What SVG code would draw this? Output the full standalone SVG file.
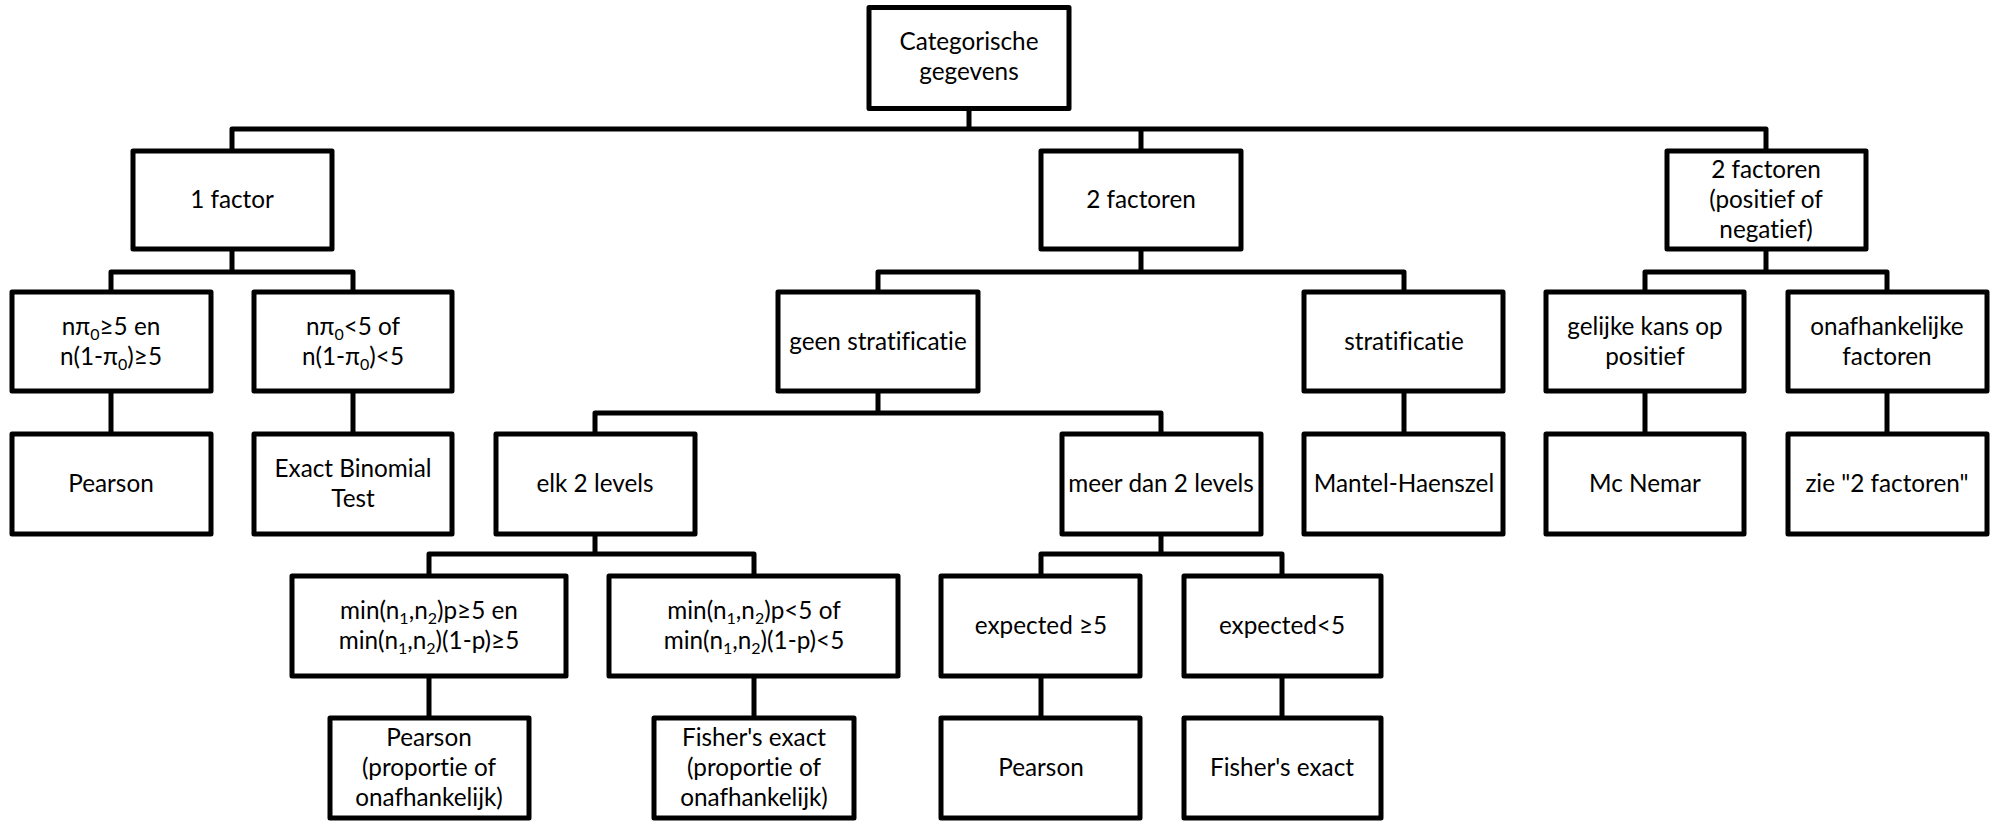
<svg xmlns="http://www.w3.org/2000/svg" width="1990" height="821" viewBox="0 0 1990 821">
<style>
.box{fill:#fff;stroke:#000;stroke-width:5;stroke-linejoin:round}
.ln{fill:none;stroke:#000;stroke-width:5;stroke-linejoin:round}
text{font-family:Lato,"Liberation Sans",sans-serif;font-size:24.3px;fill:#000;text-anchor:middle;font-variant-ligatures:none;font-feature-settings:"liga" 0,"dlig" 0}
.s{font-size:16px}
</style>
<rect width="1990" height="821" fill="#fff"/>
<g id="connectors">
<path class="ln" d="M969,108V129M232,151V129H1766V151M1141,129V151"/>
<path class="ln" d="M232,249V272M111,292V272H353V292"/>
<path class="ln" d="M1141,249V272M878,292V272H1404V292"/>
<path class="ln" d="M1766,249V272M1645,292V272H1887V292"/>
<path class="ln" d="M111,392V434M353,392V434M1404,392V434M1645,392V434M1887,392V434"/>
<path class="ln" d="M878,392V413M595,434V413H1161V434"/>
<path class="ln" d="M595,534V554M429,576V554H754V576"/>
<path class="ln" d="M1161,534V554M1041,576V554H1282V576"/>
<path class="ln" d="M429,676V718M754,676V718M1041,676V718M1282,676V718"/>
</g>
<g id="n-root"><rect class="box" x="869" y="7.5" width="200" height="101"/><text x="969" y="50">Categorische</text><text x="969" y="80">gegevens</text></g>
<g id="n-1factor"><rect class="box" x="133" y="151" width="199" height="98"/><text x="232" y="208">1 factor</text></g>
<g id="n-2factoren"><rect class="box" x="1041" y="151" width="200" height="98"/><text x="1141" y="208">2 factoren</text></g>
<g id="n-2factpos"><rect class="box" x="1667" y="151" width="199" height="98"/><text x="1766" y="178">2 factoren</text><text x="1766" y="208">(positief of</text><text x="1766" y="238">negatief)</text></g>
<g id="n-np-ge"><rect class="box" x="12" y="292" width="199" height="99"/><text x="111" y="335">nπ<tspan class="s" dy="5">0</tspan><tspan dy="-5">≥5 en</tspan></text><text x="111" y="365">n(1-π<tspan class="s" dy="5">0</tspan><tspan dy="-5">)≥5</tspan></text></g>
<g id="n-np-lt"><rect class="box" x="254" y="292" width="198" height="99"/><text x="353" y="335">nπ<tspan class="s" dy="5">0</tspan><tspan dy="-5">&lt;5 of</tspan></text><text x="353" y="365">n(1-π<tspan class="s" dy="5">0</tspan><tspan dy="-5">)&lt;5</tspan></text></g>
<g id="n-geen"><rect class="box" x="778" y="292" width="200" height="99"/><text x="878" y="350">geen stratificatie</text></g>
<g id="n-strat"><rect class="box" x="1304" y="292" width="199" height="99"/><text x="1404" y="350">stratificatie</text></g>
<g id="n-gelijke"><rect class="box" x="1546" y="292" width="198" height="99"/><text x="1645" y="335">gelijke kans op</text><text x="1645" y="365">positief</text></g>
<g id="n-onafh"><rect class="box" x="1788" y="292" width="199" height="99"/><text x="1887" y="335">onafhankelijke</text><text x="1887" y="365">factoren</text></g>
<g id="n-pearson1"><rect class="box" x="12" y="434" width="199" height="100"/><text x="111" y="492">Pearson</text></g>
<g id="n-binom"><rect class="box" x="254" y="434" width="198" height="100"/><text x="353" y="477">Exact Binomial</text><text x="353" y="507">Test</text></g>
<g id="n-elk"><rect class="box" x="496" y="434" width="199" height="100"/><text x="595" y="492">elk 2 levels</text></g>
<g id="n-meer"><rect class="box" x="1062" y="434" width="199" height="100"/><text x="1161" y="492">meer dan 2 levels</text></g>
<g id="n-mantel"><rect class="box" x="1304" y="434" width="199" height="100"/><text x="1404" y="492">Mantel-Haenszel</text></g>
<g id="n-mcnemar"><rect class="box" x="1546" y="434" width="198" height="100"/><text x="1645" y="492">Mc Nemar</text></g>
<g id="n-zie"><rect class="box" x="1788" y="434" width="199" height="100"/><text x="1887" y="492">zie "2 factoren"</text></g>
<g id="n-min-ge"><rect class="box" x="292" y="576" width="274" height="100"/><text x="429" y="619">min(n<tspan class="s" dy="5">1</tspan><tspan dy="-5">,n</tspan><tspan class="s" dy="5">2</tspan><tspan dy="-5">)p≥5 en</tspan></text><text x="429" y="649">min(n<tspan class="s" dy="5">1</tspan><tspan dy="-5">,n</tspan><tspan class="s" dy="5">2</tspan><tspan dy="-5">)(1-p)≥5</tspan></text></g>
<g id="n-min-lt"><rect class="box" x="609" y="576" width="289" height="100"/><text x="754" y="619">min(n<tspan class="s" dy="5">1</tspan><tspan dy="-5">,n</tspan><tspan class="s" dy="5">2</tspan><tspan dy="-5">)p&lt;5 of</tspan></text><text x="754" y="649">min(n<tspan class="s" dy="5">1</tspan><tspan dy="-5">,n</tspan><tspan class="s" dy="5">2</tspan><tspan dy="-5">)(1-p)&lt;5</tspan></text></g>
<g id="n-exp-ge"><rect class="box" x="941" y="576" width="199" height="100"/><text x="1041" y="634">expected ≥5</text></g>
<g id="n-exp-lt"><rect class="box" x="1184" y="576" width="197" height="100"/><text x="1282" y="634">expected&lt;5</text></g>
<g id="n-pearson-prop"><rect class="box" x="330" y="718" width="199" height="100"/><text x="429" y="746">Pearson</text><text x="429" y="776">(proportie of</text><text x="429" y="806">onafhankelijk)</text></g>
<g id="n-fisher-prop"><rect class="box" x="654" y="718" width="200" height="100"/><text x="754" y="746">Fisher's exact</text><text x="754" y="776">(proportie of</text><text x="754" y="806">onafhankelijk)</text></g>
<g id="n-pearson2"><rect class="box" x="941" y="718" width="199" height="100"/><text x="1041" y="776">Pearson</text></g>
<g id="n-fisher2"><rect class="box" x="1184" y="718" width="197" height="100"/><text x="1282" y="776">Fisher's exact</text></g>
</svg>
